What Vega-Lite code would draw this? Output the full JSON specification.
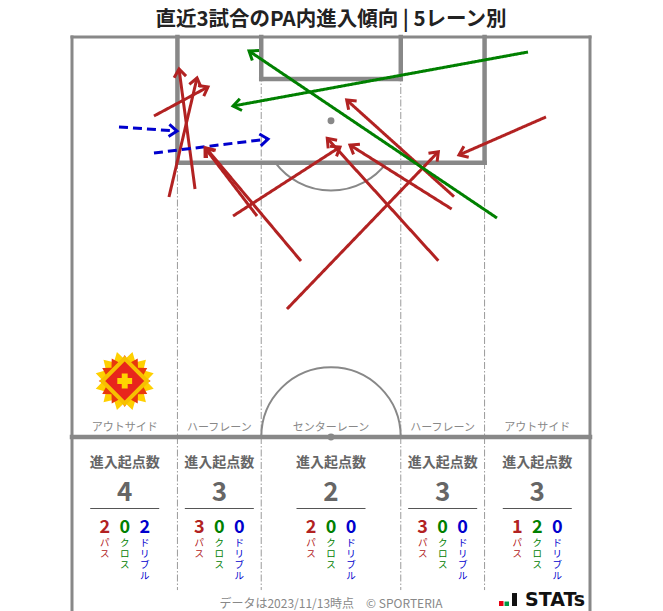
{
  "$schema": "https://vega.github.io/schema/vega-lite/v6.json",
  "width": 518,
  "height": 574,
  "autosize": {"type": "none"},
  "padding": {"left": 72, "top": 37, "right": 73, "bottom": 0},
  "background": "white",
  "title": {"text": "直近3試合のPA内進入傾向 | 5レーン別", "font": "Noto Sans CJK JP", "fontSize": 20.5, "fontWeight": "bold", "color": "#222", "anchor": "middle", "offset": 3},
  "config": {"view": {"stroke": null}, "font": "Noto Sans CJK JP", "axis": {"disable": true}},
  "datasets": {
    "lane_bounds": [
      {"x": 13.84, "y": 0, "x2": 13.84, "y2": 72.6},
      {"x": 24.84, "y": 0, "x2": 24.84, "y2": 72.6},
      {"x": 43.16, "y": 0, "x2": 43.16, "y2": 72.6},
      {"x": 54.16, "y": 0, "x2": 54.16, "y2": 72.6}
    ],
    "markings_thick": [
      {"x": 13.84, "y": 0, "x2": 13.84, "y2": 16.5},
      {"x": 54.16, "y": 0, "x2": 54.16, "y2": 16.5},
      {"x": 13.84, "y": 16.5, "x2": 54.16, "y2": 16.5},
      {"x": 24.84, "y": 0, "x2": 24.84, "y2": 5.5},
      {"x": 43.16, "y": 0, "x2": 43.16, "y2": 5.5},
      {"x": 24.84, "y": 5.5, "x2": 43.16, "y2": 5.5},
      {"x": 0, "y": 52.5, "x2": 68, "y2": 52.5}
    ],
    "outline": [
      {"x": 0, "y": 0, "x2": 0, "y2": 75.35},
      {"x": 68, "y": 0, "x2": 68, "y2": 75.35},
      {"x": 0, "y": 0, "x2": 68, "y2": 0}
    ],
    "arcs": [
      {"x": 34, "y": 11, "r": 9.15, "t0": 2.2143, "t1": 4.0689},
      {"x": 34, "y": 52.5, "r": 9.15, "t0": -1.5708, "t1": 1.5708}
    ],
    "dots": [
      {"x": 34, "y": 11},
      {"x": 34, "y": 52.5}
    ],
    "arrows": [
      {"kind": "パス", "x": 10.76, "y": 10.37, "x2": 17.85, "y2": 6.56},
      {"kind": "パス", "x": 12.73, "y": 21.0, "x2": 16.41, "y2": 5.38},
      {"kind": "パス", "x": 16.15, "y": 19.95, "x2": 14.05, "y2": 4.2},
      {"kind": "パス", "x": 21.14, "y": 23.5, "x2": 35.18, "y2": 14.44},
      {"kind": "パス", "x": 24.29, "y": 23.5, "x2": 17.46, "y2": 14.57},
      {"kind": "パス", "x": 30.06, "y": 29.41, "x2": 17.59, "y2": 14.57},
      {"kind": "パス", "x": 28.22, "y": 35.71, "x2": 48.09, "y2": 15.06},
      {"kind": "パス", "x": 48.09, "y": 29.37, "x2": 33.51, "y2": 13.3},
      {"kind": "パス", "x": 49.84, "y": 22.58, "x2": 36.49, "y2": 14.18},
      {"kind": "パス", "x": 50.15, "y": 20.96, "x2": 36.06, "y2": 8.27},
      {"kind": "パス", "x": 62.22, "y": 10.5, "x2": 50.8, "y2": 15.49},
      {"kind": "クロス", "x": 59.86, "y": 1.97, "x2": 21.14, "y2": 9.06},
      {"kind": "クロス", "x": 55.79, "y": 23.76, "x2": 23.24, "y2": 1.84},
      {"kind": "ドリブル", "x": 6.17, "y": 11.81, "x2": 13.78, "y2": 12.34},
      {"kind": "ドリブル", "x": 10.76, "y": 15.23, "x2": 25.73, "y2": 13.39}
    ],
    "lanes": [
      {"lane_id": "左アウトサイド", "lane": "アウトサイド", "center": 6.92, "total": 4},
      {"lane_id": "左ハーフレーン", "lane": "ハーフレーン", "center": 19.34, "total": 3},
      {"lane_id": "センターレーン", "lane": "センターレーン", "center": 34, "total": 2},
      {"lane_id": "右ハーフレーン", "lane": "ハーフレーン", "center": 48.66, "total": 3},
      {"lane_id": "右アウトサイド", "lane": "アウトサイド", "center": 61.08, "total": 3}
    ],
    "breakdown": [
      {"lane_id": "左アウトサイド", "kind": "パス", "n": 2},
      {"lane_id": "左アウトサイド", "kind": "クロス", "n": 0},
      {"lane_id": "左アウトサイド", "kind": "ドリブル", "n": 2},
      {"lane_id": "左ハーフレーン", "kind": "パス", "n": 3},
      {"lane_id": "左ハーフレーン", "kind": "クロス", "n": 0},
      {"lane_id": "左ハーフレーン", "kind": "ドリブル", "n": 0},
      {"lane_id": "センターレーン", "kind": "パス", "n": 2},
      {"lane_id": "センターレーン", "kind": "クロス", "n": 0},
      {"lane_id": "センターレーン", "kind": "ドリブル", "n": 0},
      {"lane_id": "右ハーフレーン", "kind": "パス", "n": 3},
      {"lane_id": "右ハーフレーン", "kind": "クロス", "n": 0},
      {"lane_id": "右ハーフレーン", "kind": "ドリブル", "n": 0},
      {"lane_id": "右アウトサイド", "kind": "パス", "n": 1},
      {"lane_id": "右アウトサイド", "kind": "クロス", "n": 2},
      {"lane_id": "右アウトサイド", "kind": "ドリブル", "n": 0}
    ]
  },
  "encoding": {
    "x": {"type": "quantitative", "scale": {"domain": [0, 68], "nice": false, "zero": false}, "axis": null},
    "y": {"type": "quantitative", "scale": {"domain": [0, 75.35], "nice": false, "zero": false, "reverse": true}, "axis": null}
  },
  "layer": [
    {
      "data": {"name": "lane_bounds"},
      "mark": {"type": "rule", "stroke": "#9a9a9a", "strokeWidth": 1, "strokeDash": [7, 2, 1.5, 2]},
      "encoding": {"x": {"field": "x"}, "y": {"field": "y"}, "x2": {"field": "x2"}, "y2": {"field": "y2"}}
    },
    {
      "data": {"values": [{}]},
      "mark": {"type": "point", "shape": "M0,-1L0.186,-0.695L0.5,-0.866L0.509,-0.509L0.866,-0.5L0.695,-0.186L1,0L0.695,0.186L0.866,0.5L0.509,0.509L0.5,0.866L0.186,0.695L0,1L-0.186,0.695L-0.5,0.866L-0.509,0.509L-0.866,0.5L-0.695,0.186L-1,0L-0.695,-0.186L-0.866,-0.5L-0.509,-0.509L-0.5,-0.866L-0.186,-0.695Z", "size": 3600, "filled": true, "fill": "#ffd000", "strokeWidth": 0, "opacity": 1, "angle": 15},
      "encoding": {"x": {"datum": 6.92}, "y": {"datum": 45.16}}
    },
    {
      "data": {"values": [{}]},
      "mark": {"type": "point", "shape": "M0,-1L0.186,-0.695L0.5,-0.866L0.509,-0.509L0.866,-0.5L0.695,-0.186L1,0L0.695,0.186L0.866,0.5L0.509,0.509L0.5,0.866L0.186,0.695L0,1L-0.186,0.695L-0.5,0.866L-0.509,0.509L-0.866,0.5L-0.695,0.186L-1,0L-0.695,-0.186L-0.866,-0.5L-0.509,-0.509L-0.5,-0.866L-0.186,-0.695Z", "size": 2700, "filled": true, "fill": "#e8380d", "strokeWidth": 0, "opacity": 1},
      "encoding": {"x": {"datum": 6.92}, "y": {"datum": 45.16}}
    },
    {
      "data": {"values": [{}]},
      "mark": {"type": "point", "shape": "diamond", "size": 2000, "filled": true, "fill": "#e8251c", "stroke": "#f7c000", "strokeWidth": 4, "opacity": 1},
      "encoding": {"x": {"datum": 6.92}, "y": {"datum": 45.16}}
    },
    {
      "data": {"values": [{}]},
      "mark": {"type": "point", "shape": "cross", "size": 220, "filled": true, "fill": "#ffd400", "strokeWidth": 0, "opacity": 1},
      "encoding": {"x": {"datum": 6.92}, "y": {"datum": 45.16}}
    },
    {
      "data": {"name": "outline"},
      "mark": {"type": "rule", "stroke": "#888888", "strokeWidth": 3, "strokeCap": "square"},
      "encoding": {"x": {"field": "x"}, "y": {"field": "y"}, "x2": {"field": "x2"}, "y2": {"field": "y2"}}
    },
    {
      "data": {"name": "markings_thick"},
      "mark": {"type": "rule", "stroke": "#888888", "strokeWidth": 4.5, "strokeCap": "square"},
      "encoding": {"x": {"field": "x"}, "y": {"field": "y"}, "x2": {"field": "x2"}, "y2": {"field": "y2"}}
    },
    {
      "data": {"name": "arcs"},
      "mark": {"type": "arc", "filled": false, "color": "#888888", "stroke": "#888888", "strokeWidth": 2},
      "encoding": {
        "x": {"field": "x"},
        "y": {"field": "y"},
        "theta": {"field": "t0", "type": "quantitative", "scale": null, "stack": null},
        "theta2": {"field": "t1"},
        "radius": {"field": "r", "type": "quantitative", "scale": {"type": "linear", "domain": [0, 68], "range": [0, 518], "zero": true}},
        "radius2": {"field": "r"}
      }
    },
    {
      "data": {"name": "dots"},
      "mark": {"type": "point", "shape": "circle", "size": 48, "filled": true, "color": "#888888", "opacity": 1},
      "encoding": {"x": {"field": "x"}, "y": {"field": "y"}}
    },
    {
      "data": {"name": "arrows"},
      "mark": {"type": "rule", "strokeWidth": 3, "strokeCap": "butt"},
      "encoding": {
        "x": {"field": "x"},
        "y": {"field": "y"},
        "x2": {"field": "x2"},
        "y2": {"field": "y2"},
        "color": {"field": "kind", "type": "nominal", "scale": {"domain": ["パス", "クロス", "ドリブル"], "range": ["#b22222", "#008000", "#0000cd"]}, "legend": null},
        "strokeDash": {"field": "kind", "type": "nominal", "scale": {"domain": ["パス", "クロス", "ドリブル"], "range": [[1, 0], [1, 0], [9, 5]]}, "legend": null}
      }
    },
    {
      "data": {"name": "arrows"},
      "mark": {"type": "point", "shape": "M-0.75,1L0,0L0.75,1", "size": 256, "filled": false, "strokeWidth": 3, "opacity": 1, "strokeJoin": "miter", "angle": {"expr": "atan2(datum.x2 - datum.x, datum.y - datum.y2) * 180 / PI"}},
      "encoding": {
        "x": {"field": "x2"},
        "y": {"field": "y2"},
        "color": {"field": "kind", "type": "nominal", "legend": null}
      }
    },
    {
      "data": {"name": "lanes"},
      "mark": {"type": "text", "fontSize": 11, "color": "#888888", "baseline": "middle"},
      "encoding": {"x": {"field": "center"}, "y": {"datum": 51.33}, "text": {"field": "lane"}}
    },
    {
      "data": {"name": "lanes"},
      "mark": {"type": "text", "text": "進入起点数", "fontSize": 14, "fontWeight": "bold", "color": "#666666", "baseline": "middle"},
      "encoding": {"x": {"field": "center"}, "y": {"datum": 55.95}}
    },
    {
      "data": {"name": "lanes"},
      "mark": {"type": "text", "fontSize": 26, "fontWeight": "bold", "color": "#666666", "baseline": "middle"},
      "encoding": {"x": {"field": "center"}, "y": {"datum": 59.8}, "text": {"field": "total"}}
    },
    {
      "data": {"name": "lanes"},
      "mark": {"type": "tick", "orient": "horizontal", "size": 69, "thickness": 1, "color": "#555555", "opacity": 1},
      "encoding": {"x": {"field": "center"}, "y": {"datum": 61.9}}
    },
    {
      "data": {"name": "breakdown"},
      "transform": [{"lookup": "lane_id", "from": {"data": {"name": "lanes"}, "key": "lane_id", "fields": ["center"]}}, {"filter": {"field": "kind", "equal": "パス"}}],
      "mark": {"type": "text", "fontSize": 18, "fontWeight": "bold", "baseline": "middle", "dx": -20},
      "encoding": {"x": {"field": "center"}, "y": {"datum": 64.45}, "text": {"field": "n"}, "color": {"field": "kind", "type": "nominal", "legend": null}}
    },
    {
      "data": {"name": "breakdown"},
      "transform": [{"lookup": "lane_id", "from": {"data": {"name": "lanes"}, "key": "lane_id", "fields": ["center"]}}, {"filter": {"field": "kind", "equal": "クロス"}}],
      "mark": {"type": "text", "fontSize": 18, "fontWeight": "bold", "baseline": "middle", "dx": 0},
      "encoding": {"x": {"field": "center"}, "y": {"datum": 64.45}, "text": {"field": "n"}, "color": {"field": "kind", "type": "nominal", "legend": null}}
    },
    {
      "data": {"name": "breakdown"},
      "transform": [{"lookup": "lane_id", "from": {"data": {"name": "lanes"}, "key": "lane_id", "fields": ["center"]}}, {"filter": {"field": "kind", "equal": "ドリブル"}}],
      "mark": {"type": "text", "fontSize": 18, "fontWeight": "bold", "baseline": "middle", "dx": 20},
      "encoding": {"x": {"field": "center"}, "y": {"datum": 64.45}, "text": {"field": "n"}, "color": {"field": "kind", "type": "nominal", "legend": null}}
    },
    {
      "data": {"name": "breakdown"},
      "transform": [{"lookup": "lane_id", "from": {"data": {"name": "lanes"}, "key": "lane_id", "fields": ["center"]}}, {"filter": {"field": "kind", "equal": "パス"}}],
      "mark": {"type": "text", "fontSize": 9.5, "lineHeight": 11, "baseline": "top", "dx": -20, "text": {"expr": "split(datum.kind, '')"}},
      "encoding": {"x": {"field": "center"}, "y": {"datum": 65.75}, "color": {"field": "kind", "type": "nominal", "legend": null}}
    },
    {
      "data": {"name": "breakdown"},
      "transform": [{"lookup": "lane_id", "from": {"data": {"name": "lanes"}, "key": "lane_id", "fields": ["center"]}}, {"filter": {"field": "kind", "equal": "クロス"}}],
      "mark": {"type": "text", "fontSize": 9.5, "lineHeight": 11, "baseline": "top", "dx": 0, "text": {"expr": "split(datum.kind, '')"}},
      "encoding": {"x": {"field": "center"}, "y": {"datum": 65.75}, "color": {"field": "kind", "type": "nominal", "legend": null}}
    },
    {
      "data": {"name": "breakdown"},
      "transform": [{"lookup": "lane_id", "from": {"data": {"name": "lanes"}, "key": "lane_id", "fields": ["center"]}}, {"filter": {"field": "kind", "equal": "ドリブル"}}],
      "mark": {"type": "text", "fontSize": 9.5, "lineHeight": 11, "baseline": "top", "dx": 20, "text": {"expr": "split(datum.kind, '')"}},
      "encoding": {"x": {"field": "center"}, "y": {"datum": 65.75}, "color": {"field": "kind", "type": "nominal", "legend": null}}
    },
    {
      "data": {"values": [{}]},
      "mark": {"type": "text", "text": "データは2023/11/13時点　© SPORTERIA", "fontSize": 12, "color": "#888888", "baseline": "middle"},
      "encoding": {"x": {"datum": 34}, "y": {"datum": 74.43}}
    },
    {
      "data": {"values": [{}]},
      "mark": {"type": "text", "text": "STATs", "font": "DejaVu Sans", "fontSize": 19, "fontWeight": "bold", "color": "#111111", "align": "left", "baseline": "middle"},
      "encoding": {"x": {"datum": 59.47}, "y": {"datum": 73.91}}
    },
    {
      "data": {"values": [{}]},
      "mark": {"type": "point", "shape": "M-26,1H-21.5V6H-26Z", "size": 4, "filled": true, "fill": "#e60012", "strokeWidth": 0, "opacity": 1},
      "encoding": {"x": {"datum": 59.47}, "y": {"datum": 73.91}}
    },
    {
      "data": {"values": [{}]},
      "mark": {"type": "point", "shape": "M-20.5,1.5H-16V6H-20.5Z", "size": 4, "filled": true, "fill": "#009944", "strokeWidth": 0, "opacity": 1},
      "encoding": {"x": {"datum": 59.47}, "y": {"datum": 73.91}}
    },
    {
      "data": {"values": [{}]},
      "mark": {"type": "point", "shape": "M-13,-7H-8V6H-13Z", "size": 4, "filled": true, "fill": "#111111", "strokeWidth": 0, "opacity": 1},
      "encoding": {"x": {"datum": 59.47}, "y": {"datum": 73.91}}
    }
  ]
}
